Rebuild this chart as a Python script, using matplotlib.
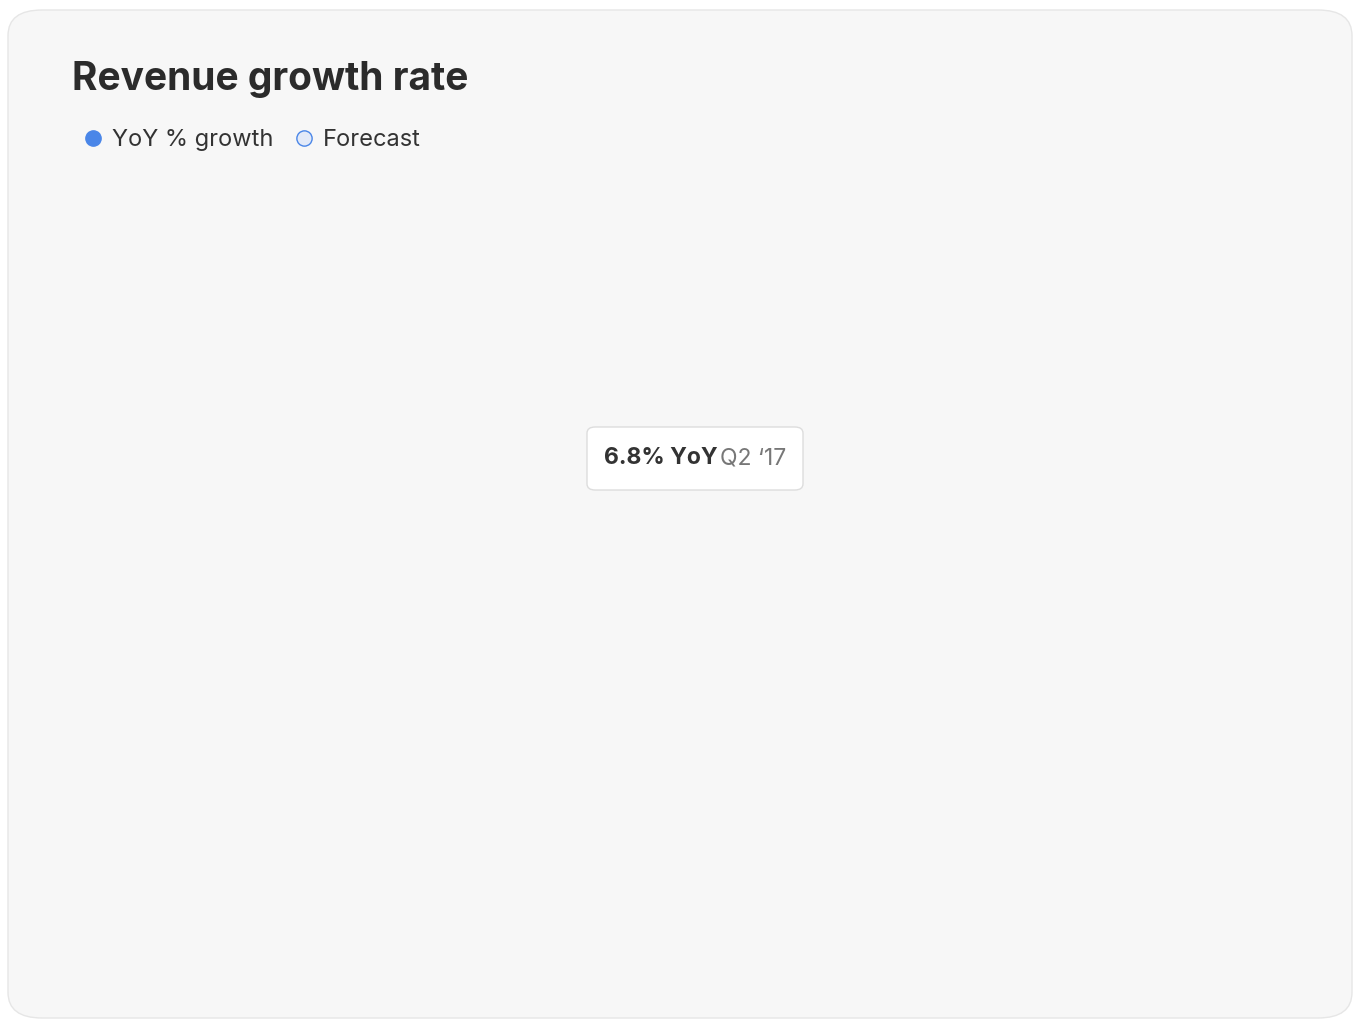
import matplotlib.pyplot as plt
from matplotlib.patches import FancyBboxPatch
from matplotlib.lines import Line2D

plt.rcParams["font.family"] = ["Inter", "DejaVu Sans"]

# quarterly YoY growth (%), quarter index from start
actual = [6.72, 6.06, 6.16, 6.55, 5.39, 5.64, 6.44, 6.11, 5.88, 5.60, 5.22, 5.55,
          5.45, 4.82, 4.57, 4.27, 4.76, 6.13, 6.46, 6.8, 6.29, 6.32, 6.9, 6.62,
          6.58, 6.46, 6.41, 5.31, 5.24, 6.46]
forecast = [6.46, 5.55, 5.8, 5.95, 6.15, 6.8, 6.45, 5.75, 6.0, 6.8, 6.35]
band_x = [29, 30, 34, 36, 38, 39]
band_hi = [6.5, 6.34, 9.7, 9.63, 11.33, 10.79]
band_lo = [6.4, 4.68, 4.1, 2.19, 2.52, 1.61]
years = ["2012", "2013", "2014", "2015", "2016", "2017", "2018", "2019",
         "2020", "2021", "2022", "2023"]
year_pos = [0.81, 4.2, 7.6, 11.0, 14.3, 17.7, 21.1, 24.5, 27.9, 31.3, 34.7, 38.2]
hl_idx = 19

blue = "#4a86e8"
fig = plt.figure(figsize=(13.6, 10.26), dpi=100)
fig.patch.set_facecolor("white")
card = FancyBboxPatch((8 / 1360, 8 / 1026), 1344 / 1360, 1008 / 1026,
                      boxstyle="round,pad=0,rounding_size=0.025", transform=fig.transFigure,
                      facecolor="#f7f7f7", edgecolor="#e6e6e6", lw=1)
fig.patches.append(card)

ax = fig.add_axes([128 / 1360, 114 / 1026, 1160 / 1360, 685 / 1026])
ax.set_facecolor("none")
ax.set_xlim(0, 39)
ax.set_ylim(0, 12)
for s in ax.spines.values():
    s.set_visible(False)
for yv in range(2, 13, 2):
    ax.axhline(yv, color="#bdbdbd", lw=1.1, ls=(0, (2, 2)), zorder=0)
ax.axhline(0, color="#bbbbbb", lw=1.2, zorder=0)

ax.fill_between(band_x, band_lo, band_hi, color="#e3eaf8", lw=0, zorder=1)
ax.plot(range(len(actual)), actual, color=blue, lw=4.5, solid_joinstyle="miter", zorder=3)
ax.plot(range(29, 29 + len(forecast)), forecast, color=blue, lw=4, ls=(0, (3, 1.5)), zorder=3)

ax.plot([hl_idx, hl_idx], [3.7, 10.1], color="#aaaaaa", lw=1, ls=(0, (2, 2)), zorder=2)
ax.plot(hl_idx, actual[hl_idx], "o", ms=17, mfc="#1a56b8", mec="white", mew=2, zorder=5)

bx = FancyBboxPatch((587 / 1360, 1 - 490 / 1026), 216 / 1360, 63 / 1026,
                    boxstyle="round,pad=0,rounding_size=0.006", transform=fig.transFigure,
                    facecolor="white", edgecolor="#dddddd", lw=1, zorder=6)
fig.patches.append(bx)
fig.text(604 / 1360, 1 - 458 / 1026, f"{actual[hl_idx]}% YoY", ha="left", va="center",
         fontsize=16.5, fontweight="bold", color="#333333", zorder=7)
fig.text(720 / 1360, 1 - 458 / 1026, "Q2 \u201817", ha="left", va="center", fontsize=16.5,
         color="#777777", zorder=7)

ax.set_yticks(range(0, 13, 2))
ax.set_yticklabels(["0"] + [f"{v}%" for v in range(2, 13, 2)])
ax.set_xticks(year_pos)
ax.set_xticklabels(years)
ax.tick_params(length=0, labelsize=14, colors="#444444")
ax.tick_params(axis="y", pad=16)
ax.tick_params(axis="x", pad=30)

fig.text(72 / 1360, 1 - 80 / 1026, "Revenue growth rate", fontsize=28, fontweight="bold",
         color="#2b2b2b", va="center")
h1 = Line2D([], [], marker="o", ls="", ms=11, mfc=blue, mec=blue)
h2 = Line2D([], [], marker="o", ls="", ms=11, mfc="#e3eaf8", mec=blue, mew=1)
leg = fig.legend([h1, h2], ["YoY % growth", "Forecast"], loc="center left",
                 bbox_to_anchor=(60 / 1360, 1 - 140 / 1026), frameon=False, fontsize=17,
                 handletextpad=0.3, columnspacing=0.8, ncol=2, handlelength=1)
for t in leg.get_texts():
    t.set_color("#333333")
fig.savefig("out.png", dpi=100, facecolor="white")
